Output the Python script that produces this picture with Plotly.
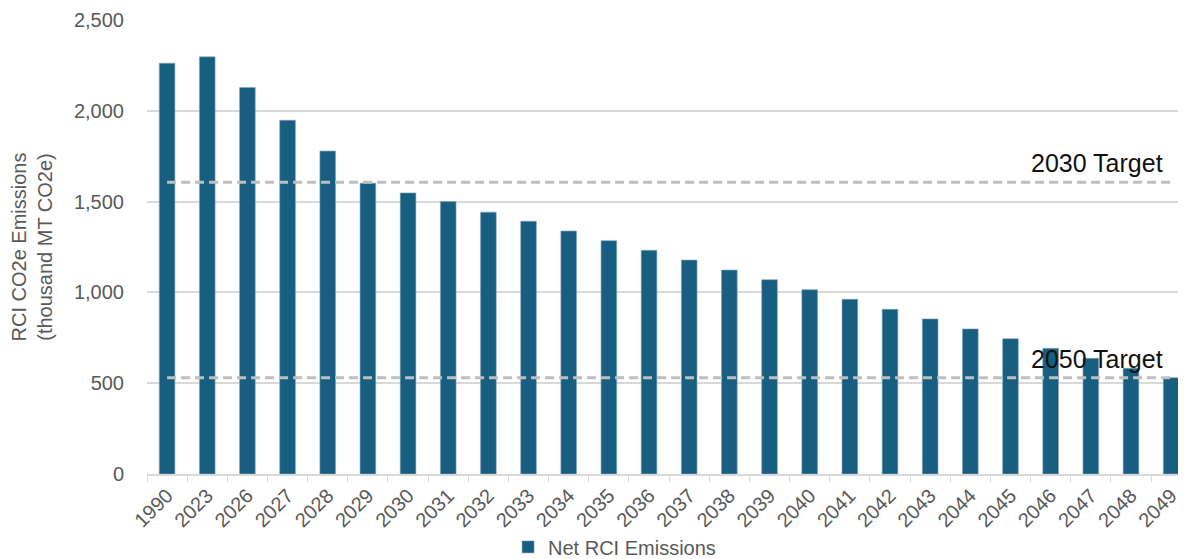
import plotly.graph_objects as go

years = ["1990", "2023", "2026", "2027", "2028", "2029", "2030", "2031", "2032", "2033",
         "2034", "2035", "2036", "2037", "2038", "2039", "2040", "2041", "2042", "2043",
         "2044", "2045", "2046", "2047", "2048", "2049"]
net_rci = [2262, 2297, 2128, 1948, 1778, 1601, 1548, 1500, 1442, 1392,
           1338, 1285, 1232, 1178, 1123, 1070, 1015, 962, 907, 854,
           799, 745, 692, 637, 582, 530]
target_2030 = 1607
target_2050 = 530
y_ticks = [0, 500, 1000, 1500, 2000, 2500]
y_tick_text = ["0", "500", "1,000", "1,500", "2,000", "2,500"]

gray = "#595959"
fig = go.Figure()
fig.add_trace(go.Bar(x=years, y=net_rci, name="Net RCI Emissions",
                     marker=dict(color="#175E80", line=dict(color="#7fa6ba", width=0.6))))
for val in (target_2030, target_2050):
    fig.add_trace(go.Scatter(x=years, y=[val] * len(years), mode="lines", showlegend=False,
                             hoverinfo="skip",
                             line=dict(color="#BFBFBF", width=3, dash="9px,5px")))

last_idx = len(years) - 1
for val, label in ((target_2030, "2030 Target"), (target_2050, "2050 Target")):
    fig.add_annotation(x=last_idx, y=val, text=label, showarrow=False,
                       xanchor="right", yanchor="bottom", xshift=-6, yshift=3,
                       font=dict(family="Liberation Sans Narrow, Arial Narrow, sans-serif",
                                 size=25, color="#111111"))

# the page body adds an 8px offset, so the figure is 8px smaller and margins shifted
fig.update_layout(
    width=1178, height=551,
    margin=dict(l=139, r=0, t=12, b=85, autoexpand=False),
    plot_bgcolor="white", paper_bgcolor="white",
    bargap=0.61,
    font=dict(family="Liberation Sans, Arial, sans-serif", color=gray, size=16),
    legend=dict(orientation="h", x=0.45, xanchor="center",
                yref="container", y=0.022, yanchor="middle",
                itemwidth=30, font=dict(size=20, color=gray)),
)
fig.update_xaxes(type="category", range=[-0.5, 25.37], automargin=False,
                 showline=True, linecolor="#D9D9D9", linewidth=2,
                 ticks="outside", tickson="boundaries", ticklen=6, tickcolor="#D9D9D9",
                 tickangle=-45, tickfont=dict(size=20, color=gray), showgrid=False)
fig.update_yaxes(range=[0, 2500], tickvals=y_ticks, ticktext=y_tick_text, automargin=False,
                 showgrid=True, gridcolor="#D9D9D9", gridwidth=1.5, zeroline=False,
                 ticklabelstandoff=22, tickfont=dict(size=20, color=gray),
                 title=dict(text="RCI CO2e Emissions<br>(thousand MT CO2e)",
                            font=dict(size=20, color=gray), standoff=15))

fig.write_html("out.html")
